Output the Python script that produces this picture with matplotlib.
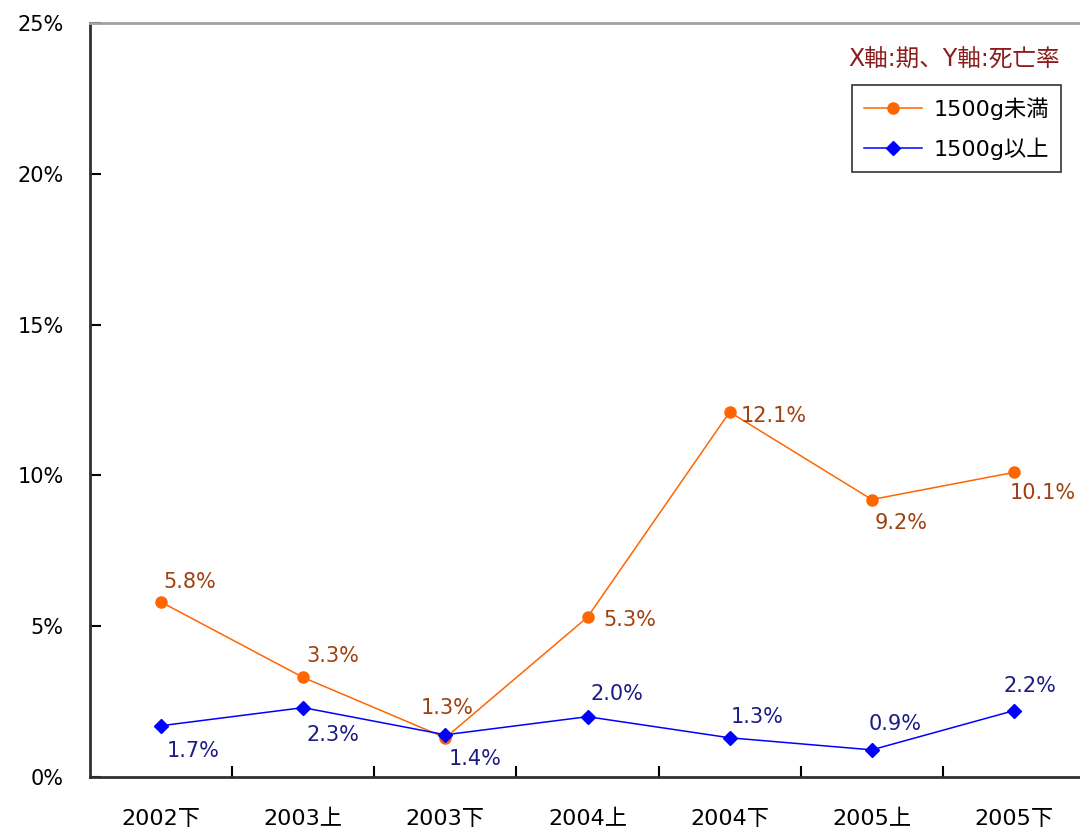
import matplotlib.pyplot as plt
from matplotlib.ticker import FixedLocator, PercentFormatter
import numpy as np

plt.rcParams['font.family'] = ['DejaVu Sans', 'Noto Sans CJK JP']

# data
periods = ['2002下', '2003上', '2003下', '2004上', '2004下', '2005上', '2005下']
under1500 = [5.8, 3.3, 1.3, 5.3, 12.1, 9.2, 10.1]
over1500 = [1.7, 2.3, 1.4, 2.0, 1.3, 0.9, 2.2]
yticks = [0, 5, 10, 15, 20, 25]

# label offsets in pixels (dx, dy)
off_under = [(29, 20), (30, 21), (2, 30), (42, -3), (44, -4), (29, -23), (29, -21)]
off_over = [(32, -25), (30, -27), (30, -24), (29, 23), (27, 21), (23, 26), (16, 25)]

fig = plt.figure(figsize=(10.8, 8.34), dpi=100)
ax = fig.add_axes([90/1080, 57/834, 995/1080, 754/834])

x = np.arange(len(periods))
ax.plot(x, under1500, color='#ff6600', lw=1.1, marker='o', ms=8, label='1500g未満')
ax.plot(x, over1500, color='#0000ff', lw=1.1, marker='D', ms=7, label='1500g以上')

for xi, v, (dx, dy) in zip(x, under1500, off_under):
    ax.annotate(f'{v:.1f}%', (xi, v), xytext=(dx, dy), textcoords='offset pixels',
                ha='center', va='center', fontsize=15, color='#a0400f')
for xi, v, (dx, dy) in zip(x, over1500, off_over):
    ax.annotate(f'{v:.1f}%', (xi, v), xytext=(dx, dy), textcoords='offset pixels',
                ha='center', va='center', fontsize=15, color='#1c1c84')

ax.set_xlim(-0.5, len(periods) - 0.5)
ax.set_ylim(0, 25)
ax.set_xticks(x)
ax.set_xticklabels(periods, fontsize=16)
ax.xaxis.set_minor_locator(FixedLocator(np.arange(0.5, len(periods) - 1, 1)))
ax.tick_params(axis='x', which='major', length=0, pad=23)
ax.tick_params(axis='x', which='minor', direction='in', length=8, width=1.5)
ax.set_yticks(yticks)
ax.yaxis.set_major_formatter(PercentFormatter(decimals=0))
ax.tick_params(axis='y', direction='in', length=8, width=1.5, pad=19, labelsize=15)

ax.spines['right'].set_visible(False)
ax.spines['top'].set_color('#a0a0a0')
ax.spines['top'].set_linewidth(2)
for s in ['left', 'bottom']:
    ax.spines[s].set_linewidth(2)
    ax.spines[s].set_color('#303030')

fig.text(1060/1080, 1 - 60/834, 'X軸:期、Y軸:死亡率', ha='right', va='center',
         fontsize=17, color='#8b1c1c')

leg = ax.legend(loc='upper left', bbox_to_anchor=(852/1080, 1 - 85/834),
                bbox_transform=fig.transFigure, borderaxespad=0,
                fontsize=16, frameon=True, fancybox=False, edgecolor='black',
                handlelength=2.6, handletextpad=0.5, borderpad=0.55, labelspacing=0.8)
leg.get_frame().set_linewidth(1.2)

fig.savefig('out.png', dpi=100)
